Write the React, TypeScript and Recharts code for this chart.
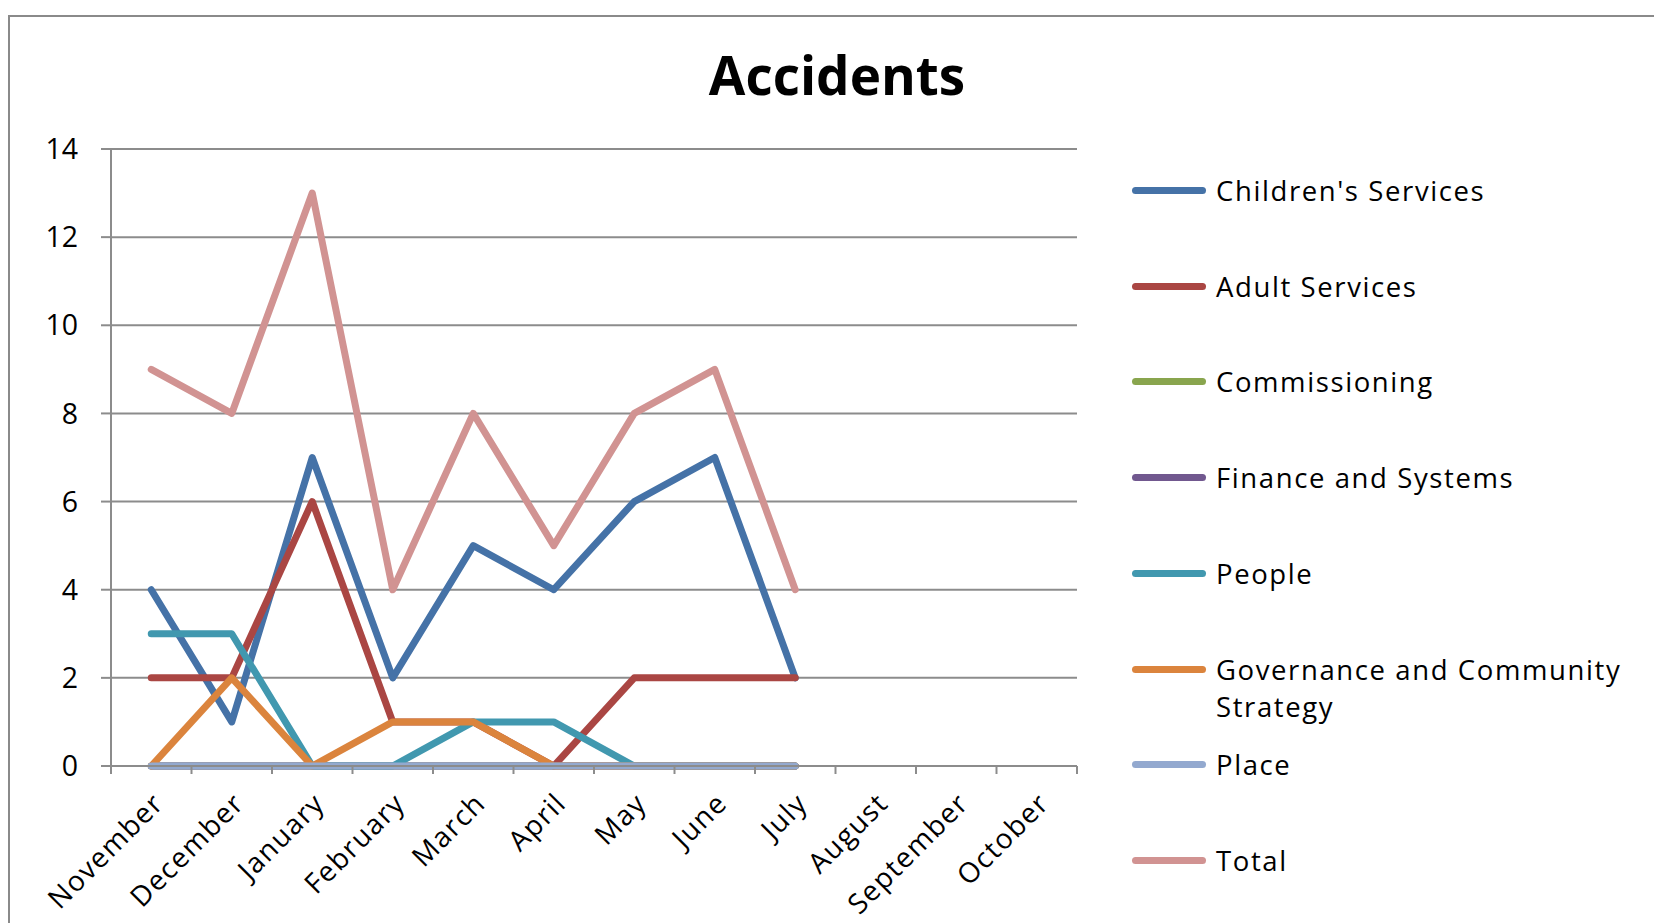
import React from 'react'
import { LineChart, Line, XAxis, YAxis, CartesianGrid, Legend } from 'recharts'

const MONTHS = [
  'November', 'December', 'January', 'February', 'March', 'April',
  'May', 'June', 'July', 'August', 'September', 'October',
]

const childrens = [4, 1, 7, 2, 5, 4, 6, 7, 2, null, null, null]
const adult = [2, 2, 6, 1, 1, 0, 2, 2, 2, null, null, null]
const commissioning = [0, 0, 0, 0, 0, 0, 0, 0, 0, null, null, null]
const finance = [0, 0, 0, 0, 0, 0, 0, 0, 0, null, null, null]
const people = [3, 3, 0, 0, 1, 1, 0, 0, 0, null, null, null]
const governance = [0, 2, 0, 1, 1, 0, 0, 0, 0, null, null, null]
const place = [0, 0, 0, 0, 0, 0, 0, 0, 0, null, null, null]
const total = [9, 8, 13, 4, 8, 5, 8, 9, 4, null, null, null]

const Y_TICKS = [0, 2, 4, 6, 8, 10, 12, 14]

const SERIES = [
  { key: 'childrens', name: "Children's Services", color: '#4572A7', values: childrens },
  { key: 'adult', name: 'Adult Services', color: '#AA4643', values: adult },
  { key: 'commissioning', name: 'Commissioning', color: '#89A54E', values: commissioning },
  { key: 'finance', name: 'Finance and Systems', color: '#71588F', values: finance },
  { key: 'people', name: 'People', color: '#4198AF', values: people },
  { key: 'governance', name: 'Governance and Community Strategy', color: '#DB843D', values: governance },
  { key: 'place', name: 'Place', color: '#93A9CF', values: place },
  { key: 'total', name: 'Total', color: '#D19392', values: total },
]

// one row per month, positioned in the middle of its slot on a 0..12 number axis
const rows = MONTHS.map((month, i) => {
  const row: Record<string, number | string | null> = { month, pos: i + 0.5 }
  SERIES.forEach((s) => {
    row[s.key] = s.values[i]
  })
  return row
})

const FONT = '"Open Sans", sans-serif'
const GRID = '#8c8c8c'
const HALF_SLOT = (1654 - 577 - 111) / 12 / 2

function MonthTick(props: any) {
  const { x, y, payload } = props
  const label = MONTHS[payload.value]
  if (!label) return null
  return (
    <text
      transform={`translate(${x + HALF_SLOT + 14}, ${y + 29}) rotate(-45)`}
      textAnchor="end"
      fontFamily={FONT}
      fontSize={28}
      letterSpacing={1.4}
      fill="#000"
    >
      {label}
    </text>
  )
}

function SideLegend() {
  return (
    <div style={{ position: 'relative', width: 520, height: 720, fontFamily: FONT }}>
      {SERIES.map((s, i) => (
        <div
          key={s.key}
          style={{
            position: 'absolute',
            left: 0,
            top: i * 95.7,
            display: 'flex',
            alignItems: 'flex-start',
          }}
        >
          <span
            style={{
              display: 'inline-block',
              width: 74,
              height: 7,
              borderRadius: 3.5,
              marginTop: 15,
              background: s.color,
              flexShrink: 0,
            }}
          />
          <span
            style={{
              marginLeft: 10,
              width: 430,
              fontSize: 27.5,
              lineHeight: '37px',
              letterSpacing: 1.6,
              color: '#000',
            }}
          >
            {s.name}
          </span>
        </div>
      ))}
    </div>
  )
}

export default function App() {
  return (
    <div
      style={{
        position: 'absolute',
        left: 0,
        top: 0,
        width: 1654,
        height: 923,
        overflow: 'hidden',
        background: '#fff',
        fontFamily: FONT,
      }}
    >
      {/* chart area frame */}
      <div
        style={{
          position: 'absolute',
          left: 8,
          top: 15,
          width: 1700,
          height: 1000,
          borderTop: '2px solid #8a8a8a',
          borderLeft: '2px solid #8a8a8a',
        }}
      />
      <div
        style={{
          position: 'absolute',
          left: 0,
          top: 48,
          width: 1674,
          textAlign: 'center',
          fontSize: 53,
          fontWeight: 700,
          lineHeight: '53px',
          color: '#000',
        }}
      >
        Accidents
      </div>
      <LineChart
        width={1654}
        height={923}
        data={rows}
        margin={{ top: 149, right: 577, bottom: 37, left: 0 }}
      >
        <CartesianGrid vertical={false} stroke={GRID} strokeWidth={2} />
        <XAxis
          type="number"
          dataKey="pos"
          domain={[0, 12]}
          ticks={[0, 1, 2, 3, 4, 5, 6, 7, 8, 9, 10, 11, 12]}
          interval={0}
          height={120}
          tickSize={8}
          axisLine={{ stroke: GRID, strokeWidth: 2 }}
          tickLine={{ stroke: GRID, strokeWidth: 2 }}
          tick={<MonthTick />}
        />
        <YAxis
          domain={[0, 14]}
          ticks={Y_TICKS}
          interval={0}
          width={111}
          tickSize={10}
          tickMargin={23}
          axisLine={{ stroke: GRID, strokeWidth: 2 }}
          tickLine={{ stroke: GRID, strokeWidth: 2 }}
          tick={{ fontFamily: FONT, fontSize: 28.5, fill: '#000' }}
        />
        <Legend
          layout="horizontal"
          verticalAlign="middle"
          content={<SideLegend />}
          wrapperStyle={{ left: 1132, top: 172, width: 520, height: 720 }}
        />
        {SERIES.map((s) => (
          <Line
            key={s.key}
            type="linear"
            dataKey={s.key}
            name={s.name}
            stroke={s.color}
            strokeWidth={7}
            strokeLinecap="round"
            strokeLinejoin="round"
            dot={false}
            activeDot={false}
            isAnimationActive={false}
          />
        ))}
      </LineChart>
    </div>
  )
}
